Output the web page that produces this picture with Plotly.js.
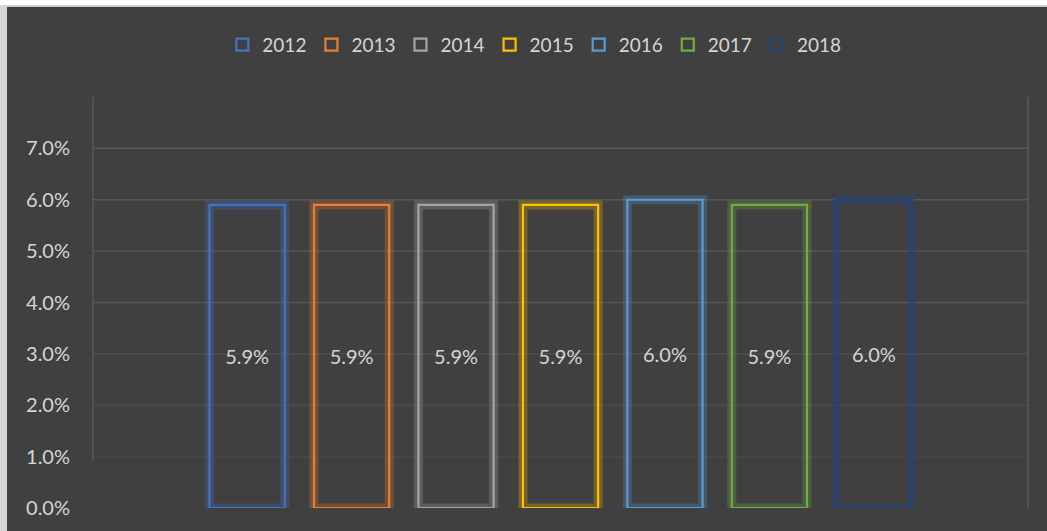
<!DOCTYPE html>
<html>
<head>
<meta charset="utf-8">
<script src="https://cdn.plot.ly/plotly-3.0.1.min.js"></script>
<style>
  html, body { margin: 0; padding: 0; background: #ffffff; width: 1047px; height: 531px; overflow: hidden; }
  #topline { position: absolute; left: 0; top: 5px; width: 1047px; height: 2px; background: #cfcfcf; }
  #leftbar { position: absolute; left: 0; top: 5px; width: 7px; height: 526px; background: #d4d4d4; }
  #chart { position: absolute; left: 7px; top: 7px; width: 1040px; height: 524px; }
</style>
</head>
<body>
<div id="topline"></div>
<div id="leftbar"></div>
<div id="chart"></div>
<script>
// ---- data ----
const years = ['2012', '2013', '2014', '2015', '2016', '2017', '2018'];
const values = [0.059, 0.059, 0.059, 0.059, 0.060, 0.059, 0.060];
const colors = ['#4472C4', '#ED7D31', '#A5A5A5', '#FFC000', '#5B9BD5', '#70AD47', '#264478'];
const glowColors = ['rgba(68,114,196,0.28)', 'rgba(237,125,49,0.28)', 'rgba(165,165,165,0.28)',
                    'rgba(255,192,0,0.28)', 'rgba(91,155,213,0.28)', 'rgba(112,173,71,0.28)', 'rgba(38,68,120,0.40)'];
const category = [''];
const tickValues = [0, 0.01, 0.02, 0.03, 0.04, 0.05, 0.06, 0.07];
const tickLabels = ['0.0%', '1.0%', '2.0%', '3.0%', '4.0%', '5.0%', '6.0%', '7.0%'];
const gridColors = ['rgba(0,0,0,0)', '#474747', '#4c4c4c', '#515151', '#555555', '#575757', '#595959', '#5a5a5a'];

const FONT = 'Lato, "Open Sans", sans-serif';
const TXT = '#d6d6d6';

const traces = [];
// main outlined bars (legend)
years.forEach((yr, i) => {
  traces.push({
    type: 'bar', name: yr, x: category, y: [values[i]],
    xaxis: 'x2', yaxis: 'y',
    marker: { color: 'rgba(0,0,0,0)', line: { color: colors[i], width: 2.2 } },
    text: [values[i]], texttemplate: '%{y:.1%}',
    textposition: 'inside', insidetextanchor: 'middle', textangle: 0,
    textfont: { family: FONT, size: 20, color: TXT },
    hoverinfo: 'skip', cliponaxis: false
  });
});
// glow bars (no legend)
years.forEach((yr, i) => {
  traces.push({
    type: 'bar', name: yr + ' glow', x: category, y: [values[i]],
    xaxis: 'x', yaxis: 'y', showlegend: false,
    marker: { color: 'rgba(0,0,0,0)', line: { color: glowColors[i], width: 9 } },
    hoverinfo: 'skip'
  });
});

const shapes = [];
tickValues.forEach((v, i) => {
  shapes.push({ type: 'line', xref: 'paper', yref: 'y', x0: 0, x1: 1, y0: v, y1: v,
                line: { color: gridColors[i], width: 1.3 }, layer: 'below' });
});
// vertical frame lines
shapes.push({ type: 'line', xref: 'paper', yref: 'y', x0: 0, x1: 0, y0: 0.009, y1: 0.08,
              line: { color: '#575757', width: 1.5 }, layer: 'below' });
shapes.push({ type: 'line', xref: 'paper', yref: 'y', x0: 1, x1: 1, y0: 0.0, y1: 0.08,
              line: { color: '#5a5a5a', width: 1.5 }, layer: 'below' });

const xcommon = { showticklabels: false, showgrid: false, zeroline: false, showline: false, ticks: '', fixedrange: true };

const layout = {
  width: 1040, height: 524,
  paper_bgcolor: '#404040', plot_bgcolor: '#404040',
  margin: { l: 86, r: 19, t: 90, b: 23 },
  barmode: 'group', bargap: 0.218, bargroupgap: 0.28,
  showlegend: true,
  legend: {
    orientation: 'h', x: 0.472, xanchor: 'center', y: 1.127, yanchor: 'middle',
    font: { family: FONT, size: 19, color: TXT }, bgcolor: 'rgba(0,0,0,0)',
    itemwidth: 30, tracegroupgap: 0
  },
  xaxis: Object.assign({}, xcommon),
  xaxis2: Object.assign({ overlaying: 'x' }, xcommon),
  yaxis: {
    range: [0, 0.08], tickvals: tickValues, ticktext: tickLabels,
    showgrid: false, zeroline: false, showline: false, ticks: '',
    ticklabelstandoff: 22,
    tickfont: { family: FONT, size: 20, color: TXT }, fixedrange: true
  },
  shapes: shapes,
  font: { family: FONT, color: TXT }
};

Plotly.newPlot('chart', traces, layout, { displayModeBar: false, staticPlot: true });
</script>
</body>
</html>
